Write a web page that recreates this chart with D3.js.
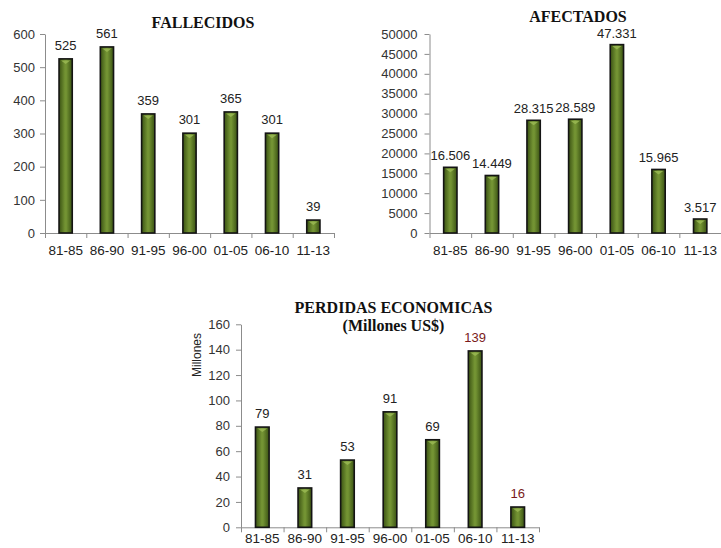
<!DOCTYPE html>
<html>
<head>
<meta charset="utf-8">
<script src="https://cdn.jsdelivr.net/npm/d3@7"></script>
<style>
  html, body { margin: 0; padding: 0; background: #fff; }
  svg { display: block; }
</style>
</head>
<body>
<svg id="chart" width="721" height="548"></svg>
<script>
const categories = ["81-85", "86-90", "91-95", "96-00", "01-05", "06-10", "11-13"];
const fallecidos = [525, 561, 359, 301, 365, 301, 39];
const afectados = [16506, 14449, 28315, 28589, 47331, 15965, 3517];
const perdidas = [79, 31, 53, 91, 69, 139, 16];

const fallecidosTicks = [0, 100, 200, 300, 400, 500, 600];
const afectadosTicks = [0, 5000, 10000, 15000, 20000, 25000, 30000, 35000, 40000, 45000, 50000];
const perdidasTicks = [0, 20, 40, 60, 80, 100, 120, 140, 160];

const esLocale = d3.formatLocale({ decimal: ",", thousands: ".", grouping: [3], currency: ["", "$"] });
const fmtThousands = esLocale.format(",");

const svg = d3.select("#chart");
const defs = svg.append("defs");
const grad = defs.append("linearGradient").attr("id", "barGrad")
  .attr("x1", "0%").attr("x2", "100%").attr("y1", "0%").attr("y2", "0%");
grad.append("stop").attr("offset", "0%").attr("stop-color", "#3a5213");
grad.append("stop").attr("offset", "45%").attr("stop-color", "#739333");
grad.append("stop").attr("offset", "55%").attr("stop-color", "#739333");
grad.append("stop").attr("offset", "100%").attr("stop-color", "#3a5213");

function drawChart(opt) {
  const g = svg.append("g");
  const x = d3.scaleBand().domain(categories).range([opt.x0, opt.x1])
    .paddingInner(0.68).paddingOuter(0.34);
  const xb = d3.scaleLinear().domain([0, categories.length]).range([opt.x0, opt.x1]);
  const y = d3.scaleLinear().domain([0, opt.max]).range([opt.y0, opt.y1]);

  // y axis
  const ya = g.append("g").attr("transform", `translate(${opt.x0},0)`)
    .call(d3.axisLeft(y).tickValues(opt.ticks).tickSize(5).tickSizeOuter(0).tickPadding(opt.yPad).tickFormat(d3.format("d")));
  ya.selectAll("path, line").attr("stroke", "#8c8c8c");
  ya.selectAll("text").attr("fill", "#333").style("font-family", "Arial, 'Liberation Sans', sans-serif").style("font-size", "13px");

  // x axis boundary ticks
  const xa = g.append("g").attr("transform", `translate(0,${opt.y0})`)
    .call(d3.axisBottom(xb).tickValues(d3.range(categories.length + 1)).tickSize(5).tickSizeOuter(0).tickFormat(""));
  xa.selectAll("path, line").attr("stroke", "#8c8c8c");

  // x labels
  const xl = g.append("g").attr("transform", `translate(0,${opt.y0})`)
    .call(d3.axisBottom(x).tickSize(0).tickPadding(opt.xPad));
  xl.select("path").remove();
  xl.selectAll("text").attr("fill", "#222").style("font-family", "Arial, 'Liberation Sans', sans-serif").style("font-size", "13.5px");

  // bars
  g.selectAll("rect.bar").data(opt.values).join("rect")
    .attr("class", "bar")
    .attr("x", (d, i) => x(categories[i]))
    .attr("y", d => y(d))
    .attr("width", x.bandwidth())
    .attr("height", d => opt.y0 - y(d))
    .attr("fill", "url(#barGrad)")
    .attr("stroke", "#141414")
    .attr("stroke-width", 1.6);

  // small bevel triangles at bar tops
  g.selectAll("path.bevel").data(opt.values).join("path")
    .attr("class", "bevel")
    .attr("d", (d, i) => {
      const bx = x(categories[i]), bw = x.bandwidth(), by = y(d);
      return `M${bx + 2},${by + 1.5} L${bx + bw - 2},${by + 1.5} L${bx + bw / 2},${by + 5} Z`;
    })
    .attr("fill", "#9cbc55").attr("opacity", 0.8);

  // value labels
  g.selectAll("text.val").data(opt.values).join("text")
    .attr("class", "val")
    .attr("x", (d, i) => x(categories[i]) + x.bandwidth() / 2)
    .attr("y", d => y(d) - opt.labelGap)
    .attr("text-anchor", "middle")
    .attr("fill", (d, i) => opt.labelColors ? opt.labelColors[i] : "#222")
    .style("font-family", "Arial, 'Liberation Sans', sans-serif")
    .style("font-size", "13px")
    .text(d => opt.fmt(d));

  // titles
  opt.titles.forEach(t => {
    g.append("text").attr("x", t.x).attr("y", t.y).attr("text-anchor", "middle")
      .style("font-family", "'Liberation Serif', 'Times New Roman', serif")
      .style("font-weight", "bold").style("font-size", "16px").attr("fill", "#111")
      .text(t.text);
  });
  return g;
}

drawChart({
  x0: 45, x1: 334, y0: 233, y1: 34, max: 600, ticks: fallecidosTicks,
  values: fallecidos, fmt: d3.format("d"), yPad: 5, xPad: 12, labelGap: 9,
  titles: [{ text: "FALLECIDOS", x: 203, y: 27.5 }]
});

drawChart({
  x0: 429.5, x1: 721, y0: 233, y1: 34, max: 50000, ticks: afectadosTicks,
  values: afectados, fmt: fmtThousands, yPad: 7, xPad: 12, labelGap: 7,
  titles: [{ text: "AFECTADOS", x: 578, y: 21.5 }]
});

const g3 = drawChart({
  x0: 241, x1: 539, y0: 527.3, y1: 324.3, max: 160, ticks: perdidasTicks,
  values: perdidas, fmt: d3.format("d"), yPad: 6, xPad: 6, labelGap: 9,
  labelColors: ["#222", "#222", "#222", "#222", "#222", "#7a1a1a", "#7a1a1a"],
  titles: [{ text: "PERDIDAS ECONOMICAS", x: 393.5, y: 312.7 }, { text: "(Millones US$)", x: 393.5, y: 331 }]
});
g3.append("text")
  .attr("transform", "translate(201,355) rotate(-90)")
  .attr("text-anchor", "middle")
  .attr("fill", "#222")
  .style("font-family", "Arial, 'Liberation Sans', sans-serif")
  .style("font-size", "12px")
  .text("Millones");
</script>
</body>
</html>
